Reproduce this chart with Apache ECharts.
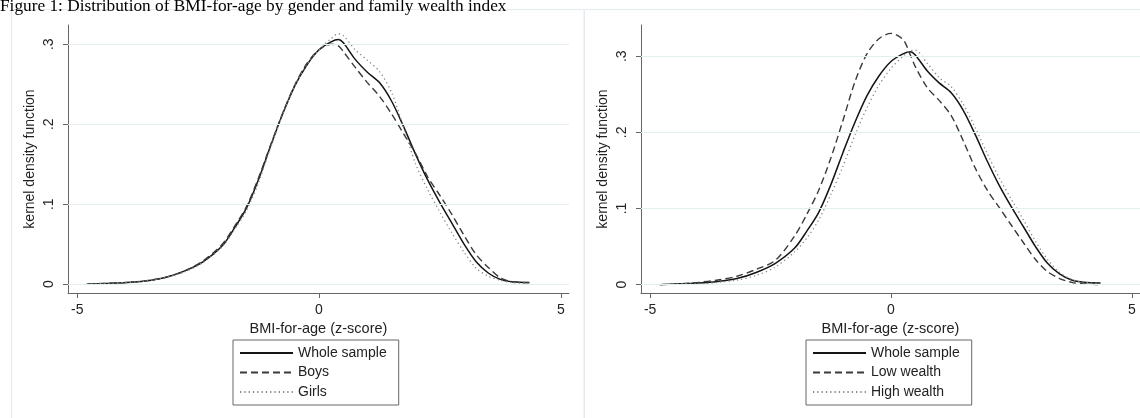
<!DOCTYPE html>
<html>
<head>
<meta charset="utf-8">
<script src="https://cdn.jsdelivr.net/npm/echarts@6/dist/echarts.min.js"></script>
<style>
html,body{margin:0;padding:0;background:#fff;}
#chart{width:1140px;height:418px;}
</style>
</head>
<body>
<div id="chart"></div>
<script>
// ---- data ----
const titleText = 'Figure 1: Distribution of BMI-for-age by gender and family wealth index';
const zGrid = [-4.8, -4.4, -4.0, -3.6, -3.2, -2.8, -2.4, -2.0, -1.75, -1.5, -1.25, -1.0, -0.75, -0.5, -0.25, 0, 0.25, 0.4, 0.5, 0.75, 1.0, 1.25, 1.5, 1.75, 2.0, 2.25, 2.5, 2.75, 3.0, 3.25, 3.5, 3.75, 4.0, 4.35];
const wholeSample = [0.000, 0.001, 0.002, 0.004, 0.008, 0.016, 0.028, 0.048, 0.070, 0.095, 0.131, 0.173, 0.213, 0.248, 0.274, 0.293, 0.303, 0.306, 0.302, 0.281, 0.265, 0.252, 0.229, 0.197, 0.162, 0.130, 0.102, 0.076, 0.050, 0.028, 0.014, 0.006, 0.003, 0.002];
const boys        = [0.000, 0.001, 0.002, 0.004, 0.008, 0.016, 0.029, 0.050, 0.072, 0.097, 0.133, 0.174, 0.214, 0.249, 0.276, 0.293, 0.300, 0.298, 0.291, 0.271, 0.252, 0.235, 0.213, 0.188, 0.163, 0.134, 0.111, 0.087, 0.061, 0.037, 0.021, 0.008, 0.003, 0.002];
const girls       = [0.000, 0.001, 0.002, 0.004, 0.008, 0.015, 0.027, 0.047, 0.068, 0.092, 0.127, 0.171, 0.212, 0.248, 0.274, 0.293, 0.307, 0.313, 0.311, 0.293, 0.280, 0.266, 0.240, 0.196, 0.150, 0.118, 0.090, 0.064, 0.040, 0.020, 0.010, 0.005, 0.002, 0.001];
const lowWealth   = [0.000, 0.001, 0.003, 0.006, 0.011, 0.020, 0.032, 0.064, 0.092, 0.124, 0.166, 0.215, 0.266, 0.303, 0.323, 0.330, 0.322, 0.302, 0.287, 0.259, 0.242, 0.222, 0.189, 0.153, 0.124, 0.101, 0.078, 0.055, 0.033, 0.017, 0.008, 0.003, 0.001, 0.000];
const highWealth  = [0.000, 0.001, 0.001, 0.003, 0.006, 0.012, 0.023, 0.043, 0.061, 0.085, 0.118, 0.155, 0.196, 0.232, 0.262, 0.284, 0.300, 0.307, 0.308, 0.291, 0.272, 0.260, 0.237, 0.206, 0.172, 0.140, 0.112, 0.085, 0.057, 0.033, 0.016, 0.007, 0.003, 0.002];
const xTicks = [-5, 0, 5];
const yTicks = [0, 0.1, 0.2, 0.3];
const xName = 'BMI-for-age (z-score)';
const yName = 'kernel density function';
const legendLeft = ['Whole sample', 'Boys', 'Girls'];
const legendRight = ['Whole sample', 'Low wealth', 'High wealth'];

// ---- chart ----
const chart = echarts.init(document.getElementById('chart'), null, {renderer: 'canvas'});
const FONT = 'Liberation Sans, Arial, sans-serif';
const pts = arr => zGrid.map((x, i) => [x, arr[i]]);

const solid  = {color: '#141414', width: 1.5, type: 'solid'};
const dashed = {color: '#3a3a3a', width: 1.4, type: [7, 4]};
const dotted = {color: '#8a8a8a', width: 1.3, type: [1.3, 3]};

function xAxis(gi) {
  return {
    type: 'value', gridIndex: gi, min: -5.19, max: 5.17,
    name: xName, nameLocation: 'middle', nameGap: 25,
    nameTextStyle: {fontFamily: FONT, fontSize: 14.5, color: '#222'},
    axisLine: {show: true, onZero: false, lineStyle: {color: '#666', width: 1}},
    axisTick: {show: true, length: 5, lineStyle: {color: '#666'}, customValues: xTicks},
    axisLabel: {fontFamily: FONT, fontSize: 14, color: '#222', margin: 10, customValues: xTicks},
    splitLine: {show: false}
  };
}
function yAxis(gi, max) {
  return {
    type: 'value', gridIndex: gi, min: -0.011, max: max,
    name: yName, nameLocation: 'middle', nameGap: 31,
    nameTextStyle: {fontFamily: FONT, fontSize: 14, color: '#222'},
    axisLine: {show: true, onZero: false, lineStyle: {color: '#666', width: 1}},
    axisTick: {show: true, length: 5, lineStyle: {color: '#666'}, customValues: yTicks},
    axisLabel: {fontFamily: FONT, fontSize: 14, color: '#222', margin: 12, rotate: 90,
      customValues: yTicks,
      formatter: v => (Math.abs(v) < 1e-9 ? '0' : String(+v.toFixed(2)).replace(/^0\./, '.'))},
    splitLine: {show: false}
  };
}
function gridLines() {
  return {
    silent: true, symbol: 'none', animation: false,
    label: {show: false},
    lineStyle: {color: '#e4eef0', width: 1, type: 'solid'},
    data: yTicks.map(v => ({yAxis: v}))
  };
}
function line(name, arr, style, gi, withGrid) {
  const s = {
    name: name, type: 'line', xAxisIndex: gi, yAxisIndex: gi,
    data: pts(arr), smooth: 0.3, symbol: 'none', showSymbol: false,
    lineStyle: style, itemStyle: {color: style.color}, animation: false, z: 3
  };
  if (withGrid) s.markLine = gridLines();
  return s;
}
function legend(names, left) {
  return {
    data: names, left: left, top: 340, orient: 'vertical',
    itemWidth: 53, itemHeight: 14, itemGap: 5.5, itemTextGap: 10,
    padding: [6, 12, 6, 6], borderColor: '#666', borderWidth: 1, borderRadius: 0,
    itemStyle: {opacity: 0, borderWidth: 0},
    textStyle: {fontFamily: FONT, fontSize: 14, color: '#222'}, selectedMode: false
  };
}

const option = {
  backgroundColor: '#fff',
  animation: false,
  title: {
    text: titleText, left: 0, top: -2, padding: 0,
    textStyle: {fontFamily: 'Liberation Serif, Times New Roman, serif', fontSize: 17.3, fontWeight: 'normal', color: '#000'}
  },
  graphic: [
    {type: 'rect', shape: {x: 11.5, y: 9.5, width: 572.5, height: 420}, style: {fill: 'none', stroke: '#e3ebee', lineWidth: 1}, z: -1},
    {type: 'rect', shape: {x: 584.5, y: 9.5, width: 570, height: 420}, style: {fill: 'none', stroke: '#e3ebee', lineWidth: 1}, z: -1}
  ],
  grid: [
    {left: 68, top: 25, width: 501, height: 268},
    {left: 641, top: 25, width: 500, height: 268}
  ],
  xAxis: [xAxis(0), xAxis(1)],
  yAxis: [yAxis(0, 0.324), yAxis(1, 0.341)],
  legend: [legend(legendLeft, 233), legend(legendRight, 806)],
  series: [
    line('Whole sample', wholeSample, solid, 0, true),
    line('Boys', boys, dashed, 0, false),
    line('Girls', girls, dotted, 0, false),
    line('Whole sample', wholeSample, solid, 1, true),
    line('Low wealth', lowWealth, dashed, 1, false),
    line('High wealth', highWealth, dotted, 1, false)
  ]
};
chart.setOption(option);
</script>
</body>
</html>
